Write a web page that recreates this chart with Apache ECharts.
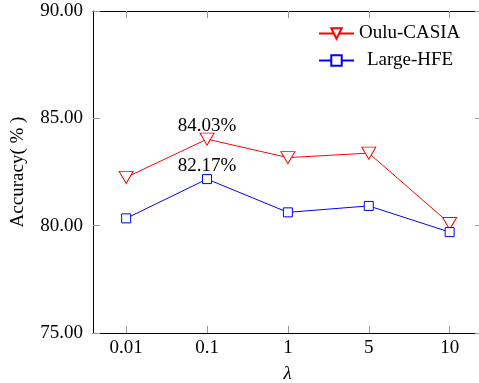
<!DOCTYPE html>
<html><head><meta charset="utf-8">
<script src="https://cdn.jsdelivr.net/npm/echarts@6/dist/echarts.min.js"></script>
<style>html,body{margin:0;padding:0;background:#fff}#c{width:479px;height:383px}</style>
</head><body><div id="c"></div>
<script>
const categories = ['0.01', '0.1', '1', '5', '10'];
const ouluCasia = [82.25, 84.03, 83.17, 83.38, 80.10];
const largeHfe = [80.34, 82.17, 80.62, 80.92, 79.70];
const yTicks = [75, 80, 85, 90];
const labeledIndex = 1;

const FONT = 'Liberation Serif';
const chart = echarts.init(document.getElementById('c'));
const tickIdx = categories.map((c, i) => i);
function toData(arr) {
  return arr.map((v, i) => {
    const d = { value: [i, v] };
    if (i === labeledIndex) d.label = { show: true };
    return d;
  });
}
const lbl = (dist) => ({
  show: false, position: 'top', distance: dist, color: '#000',
  fontFamily: FONT, fontSize: 19,
  formatter: p => p.value[1].toFixed(2) + '%'
});
const xBase = {
  type: 'value', min: -0.41, max: 4.4,
  axisLine: { show: true, onZero: false, lineStyle: { color: '#000', width: 1 } },
  axisTick: { show: true, inside: true, length: 7, customValues: tickIdx, lineStyle: { color: '#999' } },
  splitLine: { show: false }
};
const yBase = {
  type: 'value', min: yTicks[0], max: yTicks[yTicks.length - 1], interval: 5,
  axisLine: { show: true, onZero: false, lineStyle: { color: '#000', width: 1 } },
  axisTick: { show: true, inside: true, length: 7, lineStyle: { color: '#999' } },
  splitLine: { show: false }
};
chart.setOption({
  animation: false,
  grid: { left: 93, right: -3, top: 11, bottom: 50, containLabel: false, outerBoundsMode: 'none' },
  legend: {
    orient: 'vertical', left: 318, top: 24, padding: 0, itemWidth: 35, itemHeight: 13, itemGap: 8,
    textStyle: { fontFamily: FONT, fontSize: 19, color: '#000', lineHeight: 19 },
    data: [{ name: 'Oulu-CASIA' }, { name: 'Large-HFE', textStyle: { padding: [0, 0, 0, 8] } }]
  },
  xAxis: [Object.assign({}, xBase, {
    position: 'bottom',
    name: 'λ', nameLocation: 'middle', nameGap: 31,
    nameTextStyle: { fontFamily: FONT, fontSize: 19, fontStyle: 'italic', color: '#000' },
    axisLabel: { customValues: tickIdx, margin: 6, fontFamily: FONT, fontSize: 19, color: '#000',
      formatter: v => categories[Math.round(v)] }
  }), Object.assign({}, xBase, {
    position: 'top', axisLabel: { show: false }
  })],
  yAxis: [Object.assign({}, yBase, {
    position: 'left',
    name: 'Accuracy( % )', nameLocation: 'middle', nameGap: 65, nameRotate: 90,
    nameTextStyle: { fontFamily: FONT, fontSize: 19, color: '#000' },
    axisLabel: { margin: 10, fontFamily: FONT, fontSize: 19, color: '#000', formatter: v => v.toFixed(2) }
  }), Object.assign({}, yBase, {
    position: 'right', axisLabel: { show: false }
  })],
  series: [{
    name: 'Oulu-CASIA', type: 'line', data: toData(ouluCasia),
    symbol: 'triangle', symbolRotate: 180, symbolSize: [14, 12],
    itemStyle: { color: '#fff', borderColor: '#ff0000', borderWidth: 1 },
    lineStyle: { color: '#ff0000', width: 1 },
    label: lbl(-3)
  }, {
    name: 'Large-HFE', type: 'line', data: toData(largeHfe),
    symbol: 'rect', symbolSize: 9,
    itemStyle: { color: '#fff', borderColor: '#0000ff', borderWidth: 1 },
    lineStyle: { color: '#0000ff', width: 1 },
    label: lbl(-1)
  }]
});
</script></body></html>
